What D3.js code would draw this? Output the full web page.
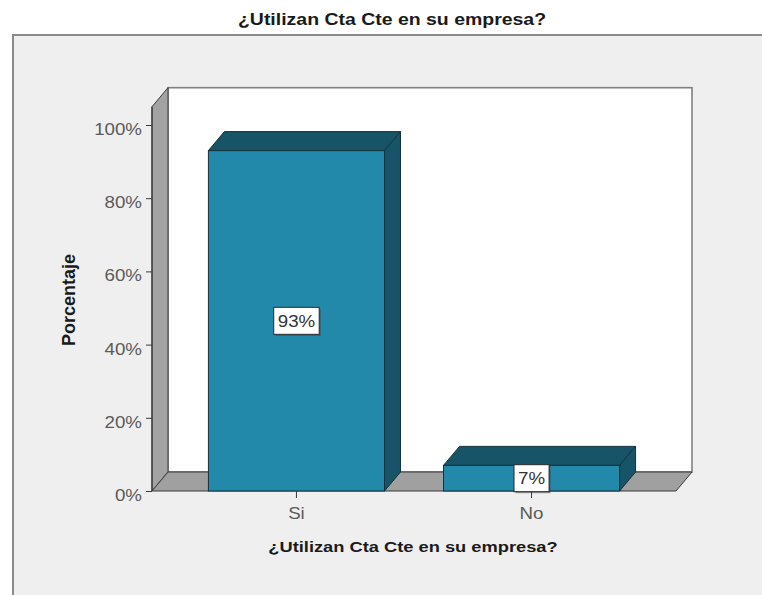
<!DOCTYPE html>
<html>
<head>
<meta charset="utf-8">
<script src="https://cdn.jsdelivr.net/npm/d3@7"></script>
<style>
  html, body { margin: 0; padding: 0; background: #ffffff; }
  svg { display: block; }
  text { font-family: "Liberation Sans", Arial, sans-serif; }
</style>
</head>
<body>
<svg id="chart" width="762" height="595"></svg>
<script>
// Survey answers and their share of respondents
const chartTitle = "¿Utilizan Cta Cte en su empresa?";
const xAxisTitle = "¿Utilizan Cta Cte en su empresa?";
const yAxisTitle = "Porcentaje";
const categories = ["Si", "No"];
const percentages = [93, 7];
const yTickValues = [0, 20, 40, 60, 80, 100];
const wallTopValue = 105;

const svg = d3.select("#chart");
const W = 762, H = 595;

// Horizontal stretch applied to every text label
const SX = 1.17;

// Panel frame
svg.append("rect").attr("x", 13).attr("y", 35).attr("width", W).attr("height", H)
  .attr("fill", "#efefef").attr("stroke", "#8a8a8a").attr("stroke-width", 2);

// Front plane of the 3D box
const left = 152, right = 676, bottom = 491;
const depthX = 16, depthY = -19;

const y = d3.scaleLinear().domain([0, 100]).range([bottom, 125]);
const x = d3.scaleBand().domain(categories).range([left, right])
  .paddingInner(0.251).paddingOuter(0.24);

const poly = pts => pts.map(p => p.join(",")).join(" ");
const g = svg.append("g");

// Back wall
g.append("rect")
  .attr("x", left + depthX).attr("y", y(wallTopValue) + depthY)
  .attr("width", right - left).attr("height", bottom - y(wallTopValue))
  .attr("fill", "#ffffff").attr("stroke", "#808080").attr("stroke-width", 1.6);

// Left side wall
g.append("polygon")
  .attr("points", poly([
    [left, y(0)], [left, y(wallTopValue)],
    [left + depthX, y(wallTopValue) + depthY], [left + depthX, y(0) + depthY]
  ]))
  .attr("fill", "#a3a3a3").attr("stroke", "#3a3a3a").attr("stroke-width", 1);

// Floor
g.append("polygon")
  .attr("points", poly([
    [left, y(0)], [left + depthX, y(0) + depthY],
    [right + depthX, y(0) + depthY], [right, y(0)]
  ]))
  .attr("fill", "#a0a0a0").attr("stroke", "#3a3a3a").attr("stroke-width", 1);

// Bars drawn as boxes: front, top and right faces
const frontColor = "#2389aa", shadeColor = "#175468", edgeColor = "#12323d";
const bars = g.selectAll("g.bar").data(categories.map((c, i) => ({ c, v: percentages[i] })))
  .join("g").attr("class", "bar");

bars.append("polygon")
  .attr("points", d => {
    const x0 = x(d.c), x1 = x0 + x.bandwidth(), yt = y(d.v);
    return poly([[x0, yt], [x0 + depthX, yt + depthY], [x1 + depthX, yt + depthY], [x1, yt]]);
  })
  .attr("fill", shadeColor).attr("stroke", edgeColor).attr("stroke-width", 1);

bars.append("polygon")
  .attr("points", d => {
    const x1 = x(d.c) + x.bandwidth(), yt = y(d.v), yb = y(0);
    return poly([[x1, yt], [x1 + depthX, yt + depthY], [x1 + depthX, yb + depthY], [x1, yb]]);
  })
  .attr("fill", shadeColor).attr("stroke", edgeColor).attr("stroke-width", 1);

bars.append("rect")
  .attr("x", d => x(d.c)).attr("y", d => y(d.v))
  .attr("width", x.bandwidth()).attr("height", d => y(0) - y(d.v))
  .attr("fill", frontColor).attr("stroke", edgeColor).attr("stroke-width", 1);

// Y axis
const yAxis = d3.axisLeft(y).tickValues(yTickValues).tickSize(6).tickPadding(4)
  .tickFormat(d => d + "%");
const yg = svg.append("g").attr("transform", `translate(${left},0)`).call(yAxis);
yg.select(".domain").remove();
yg.selectAll(".tick line").attr("stroke", "#3a3a3a");
yg.selectAll(".tick text")
  .attr("x", null).attr("dy", null)
  .attr("transform", "translate(-10,9.5) scale(" + SX + ",1)")
  .attr("fill", "#5a5a5a").attr("font-size", 16).attr("font-family", "Liberation Sans, Arial, sans-serif");
// Front edge of the side wall acts as the axis line
svg.append("line").attr("x1", left).attr("x2", left)
  .attr("y1", y(0)).attr("y2", y(wallTopValue))
  .attr("stroke", "#3a3a3a").attr("stroke-width", 1.2);

// X axis
const xAxis = d3.axisBottom(x).tickSize(7).tickPadding(0);
const xg = svg.append("g").attr("transform", `translate(0,${bottom})`).call(xAxis);
xg.select(".domain").remove();
xg.selectAll(".tick line").attr("stroke", "#3a3a3a");
xg.selectAll(".tick text")
  .attr("y", null).attr("dy", null)
  .attr("transform", "translate(0,28) scale(" + SX + ",1)")
  .attr("fill", "#5a5a5a").attr("font-size", 16).attr("font-family", "Liberation Sans, Arial, sans-serif");

// Value labels in boxes at the middle of each bar
const labelG = svg.selectAll("g.vlabel").data(categories.map((c, i) => ({ c, v: percentages[i] })))
  .join("g").attr("class", "vlabel")
  .attr("transform", d => `translate(${x(d.c) + x.bandwidth() / 2},${(y(d.v) + y(0)) / 2})`);
labelG.each(function (d) {
  const sel = d3.select(this);
  const t = sel.append("text")
    .attr("text-anchor", "middle")
    .attr("transform", "translate(0,6) scale(" + SX + ",1)")
    .attr("font-size", 16).attr("fill", "#333")
    .text(d.v + "%");
  const w = t.node().getComputedTextLength() * SX + 8, h = 27;
  sel.insert("rect", "text").attr("x", -w / 2 + 1.5).attr("y", -h / 2 + 1.5)
    .attr("width", w).attr("height", h).attr("fill", "#3a3a3a").attr("opacity", 0.5);
  sel.insert("rect", "text").attr("x", -w / 2).attr("y", -h / 2)
    .attr("width", w).attr("height", h).attr("fill", "#ffffff")
    .attr("stroke", "#2a2a2a").attr("stroke-width", 1);
});

// Titles
svg.append("text")
  .attr("text-anchor", "middle")
  .attr("transform", "translate(392,25) scale(1.18,1)")
  .attr("font-size", 16.5).attr("font-weight", "bold").attr("fill", "#1a1a1a")
  .text(chartTitle);

svg.append("text")
  .attr("text-anchor", "middle")
  .attr("transform", "translate(413,552) scale(1.18,1)")
  .attr("font-size", 15.5).attr("font-weight", "bold").attr("fill", "#1a1a1a")
  .text(xAxisTitle);

svg.append("text")
  .attr("text-anchor", "middle")
  .attr("transform", "translate(75,300) rotate(-90) scale(1.2,1.17)")
  .attr("font-size", 15).attr("font-weight", "bold").attr("fill", "#1a1a1a")
  .text(yAxisTitle);
</script>
</body>
</html>
